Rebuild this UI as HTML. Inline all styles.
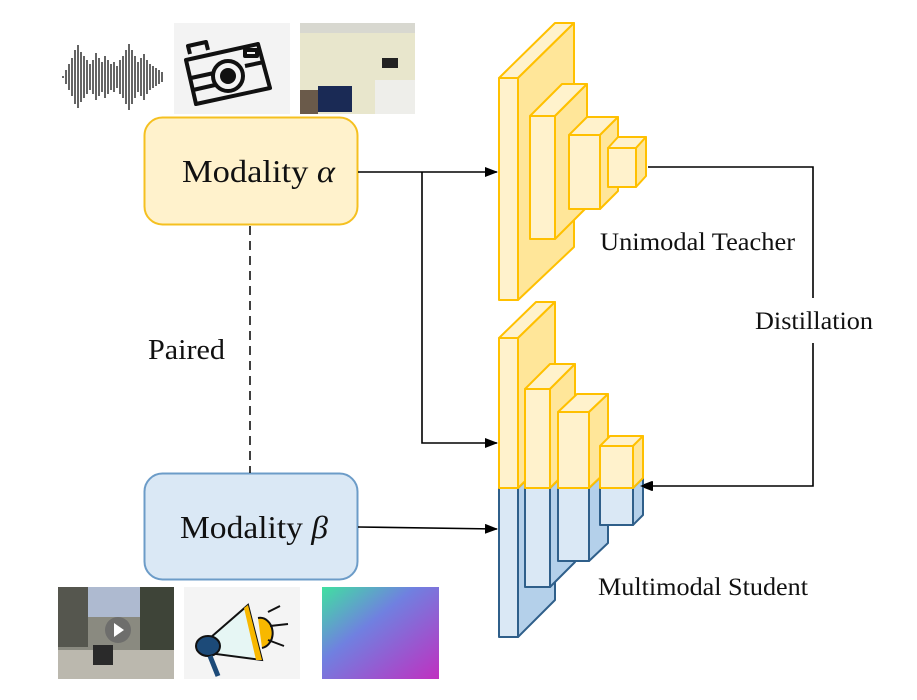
<!DOCTYPE html>
<html><head><meta charset="utf-8"><style>
html,body{margin:0;padding:0;background:#fff;}
svg{display:block;}
text{font-family:"Liberation Serif",serif;fill:#111;}
</style></head><body>
<svg width="917" height="700" viewBox="0 0 917 700" xmlns="http://www.w3.org/2000/svg">
<defs>
<marker id="ah" markerWidth="13" markerHeight="10" refX="12" refY="5" orient="auto" markerUnits="userSpaceOnUse">
<path d="M0,0 L13,5 L0,10 Z" fill="#000"/></marker>
<linearGradient id="dep" x1="0" y1="0" x2="1" y2="1">
<stop offset="0" stop-color="#40e0a0"/><stop offset="0.4" stop-color="#7080e0"/><stop offset="1" stop-color="#c030c0"/></linearGradient>
</defs>

<!-- top images -->
<g stroke="#111" stroke-width="1.3">
<line x1="63" y1="76" x2="63" y2="78"/><line x1="66" y1="70" x2="66" y2="84"/><line x1="69" y1="64" x2="69" y2="90"/><line x1="72" y1="58" x2="72" y2="96"/><line x1="75" y1="50" x2="75" y2="104"/><line x1="78" y1="45" x2="78" y2="108"/><line x1="81" y1="52" x2="81" y2="102"/><line x1="84" y1="56" x2="84" y2="98"/><line x1="87" y1="60" x2="87" y2="94"/><line x1="90" y1="64" x2="90" y2="90"/><line x1="93" y1="60" x2="93" y2="94"/><line x1="96" y1="53" x2="96" y2="100"/><line x1="99" y1="58" x2="99" y2="96"/><line x1="102" y1="62" x2="102" y2="92"/><line x1="105" y1="56" x2="105" y2="98"/><line x1="108" y1="60" x2="108" y2="94"/><line x1="111" y1="64" x2="111" y2="90"/><line x1="114" y1="62" x2="114" y2="92"/><line x1="117" y1="66" x2="117" y2="88"/><line x1="120" y1="60" x2="120" y2="94"/><line x1="123" y1="56" x2="123" y2="98"/><line x1="126" y1="50" x2="126" y2="104"/><line x1="129" y1="44" x2="129" y2="110"/><line x1="132" y1="50" x2="132" y2="104"/><line x1="135" y1="56" x2="135" y2="98"/><line x1="138" y1="62" x2="138" y2="92"/><line x1="141" y1="58" x2="141" y2="96"/><line x1="144" y1="54" x2="144" y2="100"/><line x1="147" y1="60" x2="147" y2="94"/><line x1="150" y1="64" x2="150" y2="90"/><line x1="153" y1="66" x2="153" y2="88"/><line x1="156" y1="68" x2="156" y2="86"/><line x1="159" y1="70" x2="159" y2="84"/><line x1="162" y1="72" x2="162" y2="82"/>
</g>
<rect x="174" y="23" width="116" height="91" fill="#f3f3f3"/>
<g fill="none" stroke="#111" stroke-width="4" stroke-linejoin="round">
<path d="M186,60 L258,44 L270,88 L196,104 Z"/>
<path d="M191,78 L214,73 M245,66 L264,62 M193,90 L215,85"/>
<circle cx="228" cy="76" r="15"/>
<path d="M190,54 L188,46 L206,42 L208,50"/>
<rect x="245" y="50" width="12" height="6"/>
</g>
<circle cx="228" cy="76" r="8" fill="#111"/>
<rect x="300" y="23" width="115" height="91" fill="#e8e6cc"/>
<rect x="300" y="23" width="115" height="10" fill="#d8d8d0"/>
<rect x="318" y="86" width="34" height="26" fill="#1a2a55"/>
<rect x="382" y="58" width="16" height="10" fill="#222"/>
<rect x="375" y="80" width="40" height="34" fill="#eeeeea"/>
<rect x="300" y="90" width="18" height="24" fill="#6a5a4a"/>

<!-- bottom images -->
<rect x="58" y="587" width="116" height="92" fill="#8a8a80"/>
<rect x="58" y="587" width="30" height="60" fill="#55564e"/>
<rect x="140" y="587" width="34" height="80" fill="#3e4438"/>
<rect x="88" y="587" width="52" height="30" fill="#aebad0"/>
<rect x="58" y="650" width="116" height="29" fill="#bbb8ae"/>
<rect x="93" y="645" width="20" height="20" fill="#2a2a2a"/>
<circle cx="118" cy="630" r="13" fill="#666" opacity="0.8"/>
<path d="M114,623 L124,630 L114,637 Z" fill="#fff"/>
<rect x="184" y="587" width="116" height="92" fill="#f4f4f4"/>
<path d="M210,638 L248,605 L262,660 L216,654 Z" fill="#e6f6f4" stroke="#111" stroke-width="2"/>
<path d="M248,605 L262,660 L256,660 L244,608 Z" fill="#f8b800"/>
<path d="M258,618 A10,12 0 0 1 262,648" fill="#f8b800" stroke="#111" stroke-width="2"/>
<ellipse cx="208" cy="646" rx="12" ry="10" fill="#1c4a78" stroke="#111" stroke-width="2"/>
<path d="M210,656 L218,676" stroke="#1c4a78" stroke-width="5"/>
<path d="M268,612 L280,606 M270,626 L288,624 M268,640 L284,646" stroke="#111" stroke-width="2"/>
<rect x="322" y="587" width="117" height="92" fill="url(#dep)"/>

<!-- modality boxes -->
<rect x="144.5" y="117.5" width="213" height="107" rx="18" fill="#FFF2CC" stroke="#F5C020" stroke-width="2"/>
<text x="182" y="182" font-size="32" textLength="153" lengthAdjust="spacingAndGlyphs">Modality <tspan font-style="italic">α</tspan></text>
<rect x="144.5" y="473.5" width="213" height="106" rx="18" fill="#DAE8F5" stroke="#6C9CC8" stroke-width="2"/>
<text x="180" y="538" font-size="32" textLength="148" lengthAdjust="spacingAndGlyphs">Modality  <tspan font-style="italic">β</tspan></text>

<line x1="250" y1="226" x2="250" y2="473" stroke="#111" stroke-width="1.6" stroke-dasharray="9,6"/>
<text x="148" y="359" font-size="28" textLength="77" lengthAdjust="spacingAndGlyphs">Paired</text>

<!-- connectors -->
<g stroke="#000" stroke-width="1.6" fill="none">
<line x1="358" y1="172" x2="497" y2="172" marker-end="url(#ah)"/>
<polyline points="422,172 422,443 497,443" marker-end="url(#ah)"/>
<line x1="358" y1="527" x2="497" y2="529" marker-end="url(#ah)"/>
<polyline points="648,167 813,167 813,298"/>
<polyline points="813,343 813,486 640,486" marker-end="url(#ah)"/>
</g>
<text x="755" y="329" font-size="25" textLength="118" lengthAdjust="spacingAndGlyphs">Distillation</text>
<text x="600" y="250" font-size="25" textLength="195" lengthAdjust="spacingAndGlyphs">Unimodal Teacher</text>
<text x="598" y="595" font-size="25" textLength="210" lengthAdjust="spacingAndGlyphs">Multimodal Student</text>

<!-- teacher -->
<g stroke="#FFC000" stroke-width="2" stroke-linejoin="round">
<polygon points="499,78 518,78 574,23 555,23" fill="#FFF2CC"/>
<polygon points="518,78 574,23 574,247 518,300" fill="#FFE699"/>
<rect x="499" y="78" width="19" height="222" fill="#FFF2CC"/>
<polygon points="530,116 555,116 587,84 562,84" fill="#FFF2CC"/>
<polygon points="555,116 587,84 587,207 555,239" fill="#FFE699"/>
<rect x="530" y="116" width="25" height="123" fill="#FFF2CC"/>
<polygon points="569,135 600,135 618,117 587,117" fill="#FFF2CC"/>
<polygon points="600,135 618,117 618,191 600,209" fill="#FFE699"/>
<rect x="569" y="135" width="31" height="74" fill="#FFF2CC"/>
<polygon points="608,148 636,148 646,137 618,137" fill="#FFF2CC"/>
<polygon points="636,148 646,137 646,176 636,187" fill="#FFE699"/>
<rect x="608" y="148" width="28" height="39" fill="#FFF2CC"/>
</g>

<!-- student -->
<g stroke-width="2" stroke-linejoin="round">
<polygon points="518,488 555,452 555,600 518,637" fill="#B4D0EA" stroke="#2F5F8A"/>
<rect x="499" y="488" width="19" height="149" fill="#DAE8F5" stroke="#2F5F8A"/>
<polygon points="499,338 518,338 555,302 536,302" fill="#FFF2CC" stroke="#FFC000"/>
<polygon points="518,338 555,302 555,452 518,488" fill="#FFE699" stroke="#FFC000"/>
<rect x="499" y="338" width="19" height="150" fill="#FFF2CC" stroke="#FFC000"/>
<polygon points="550,488 575,463 575,562 550,587" fill="#B4D0EA" stroke="#2F5F8A"/>
<rect x="525" y="488" width="25" height="99" fill="#DAE8F5" stroke="#2F5F8A"/>
<polygon points="525,389 550,389 575,364 550,364" fill="#FFF2CC" stroke="#FFC000"/>
<polygon points="550,389 575,364 575,463 550,488" fill="#FFE699" stroke="#FFC000"/>
<rect x="525" y="389" width="25" height="99" fill="#FFF2CC" stroke="#FFC000"/>
<polygon points="589,488 608,470 608,543 589,561" fill="#B4D0EA" stroke="#2F5F8A"/>
<rect x="558" y="488" width="31" height="73" fill="#DAE8F5" stroke="#2F5F8A"/>
<polygon points="558,412 589,412 608,394 577,394" fill="#FFF2CC" stroke="#FFC000"/>
<polygon points="589,412 608,394 608,470 589,488" fill="#FFE699" stroke="#FFC000"/>
<rect x="558" y="412" width="31" height="76" fill="#FFF2CC" stroke="#FFC000"/>
<polygon points="633,488 643,478 643,515 633,525" fill="#B4D0EA" stroke="#2F5F8A"/>
<rect x="600" y="488" width="33" height="37" fill="#DAE8F5" stroke="#2F5F8A"/>
<polygon points="600,446 633,446 643,436 610,436" fill="#FFF2CC" stroke="#FFC000"/>
<polygon points="633,446 643,436 643,478 633,488" fill="#FFE699" stroke="#FFC000"/>
<rect x="600" y="446" width="33" height="42" fill="#FFF2CC" stroke="#FFC000"/>
</g>
<path d="M640,486 L653,481 L653,491 Z" fill="#000"/>
</svg>
</body></html>
